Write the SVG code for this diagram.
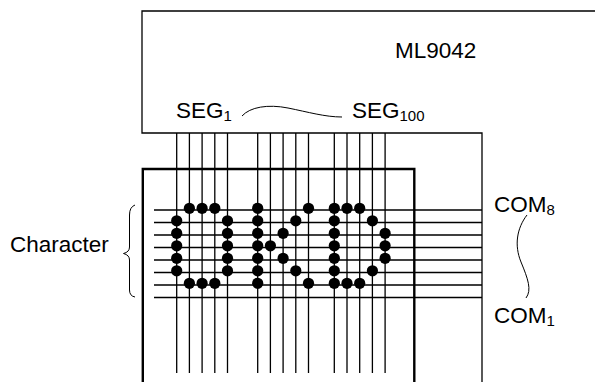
<svg xmlns="http://www.w3.org/2000/svg" width="595" height="382" viewBox="0 0 595 382">
<style>
text{font-family:"Liberation Sans",Arial,sans-serif;font-size:22.5px;fill:#000}
.sub{font-size:15px}
.ln{stroke:#000;stroke-width:1.3;fill:none}
.thin{stroke:#000;stroke-width:1;fill:none}
.dot{fill:#000}
</style>
<rect width="595" height="382" fill="#fff"/>
<g id="ml9042">
<path class="ln" d="M595 11H142V133H482V382"/>
<text x="395" y="58">ML9042</text>
<text x="176" y="118">SEG<tspan class="sub" dy="3">1</tspan></text>
<text x="352" y="118">SEG<tspan class="sub" dy="3">100</tspan></text>
<path class="thin" d="M242 116C250 107 268 104 288 108S325 117 342 117"/>
</g>
<g id="connectors">
<g class="ln">
<path d="M176.7 133V373M189.4 133V373M202.1 133V373M214.8 133V373M227.5 133V373"/>
<path d="M257.7 133V373M270.4 133V373M283.1 133V373M295.8 133V373M308.5 133V373"/>
<path d="M334.3 133V373M347 133V373M359.7 133V373M372.4 133V373M385.1 133V373"/>
<path d="M154 210H482M154 222.5H482M154 235H482M154 247.5H482M154 260H482M154 272.5H482M154 285H482M154 297.5H482"/>
</g>
</g>
<g id="display">
<path d="M142.8 382V169H414.3V382" fill="none" stroke="#000" stroke-width="2.4"/>
</g>
<g id="characters" class="dot">
<!-- O -->
<g transform="translate(176.7 208.3)">
<circle cx="12.7" cy="0" r="5.6"/><circle cx="25.4" cy="0" r="5.6"/><circle cx="38.1" cy="0" r="5.6"/>
<circle cx="0" cy="12.5" r="5.6"/><circle cx="50.8" cy="12.5" r="5.6"/>
<circle cx="0" cy="25" r="5.6"/><circle cx="50.8" cy="25" r="5.6"/>
<circle cx="0" cy="37.5" r="5.6"/><circle cx="50.8" cy="37.5" r="5.6"/>
<circle cx="0" cy="50" r="5.6"/><circle cx="50.8" cy="50" r="5.6"/>
<circle cx="0" cy="62.5" r="5.6"/><circle cx="50.8" cy="62.5" r="5.6"/>
<circle cx="12.7" cy="75" r="5.6"/><circle cx="25.4" cy="75" r="5.6"/><circle cx="38.1" cy="75" r="5.6"/>
</g>
<!-- K -->
<g transform="translate(257.7 208.3)">
<circle cx="0" cy="0" r="5.6"/><circle cx="50.8" cy="0" r="5.6"/>
<circle cx="0" cy="12.5" r="5.6"/><circle cx="38.1" cy="12.5" r="5.6"/>
<circle cx="0" cy="25" r="5.6"/><circle cx="25.4" cy="25" r="5.6"/>
<circle cx="0" cy="37.5" r="5.6"/><circle cx="12.7" cy="37.5" r="5.6"/>
<circle cx="0" cy="50" r="5.6"/><circle cx="25.4" cy="50" r="5.6"/>
<circle cx="0" cy="62.5" r="5.6"/><circle cx="38.1" cy="62.5" r="5.6"/>
<circle cx="0" cy="75" r="5.6"/><circle cx="50.8" cy="75" r="5.6"/>
</g>
<!-- D -->
<g transform="translate(334.3 208.3)">
<circle cx="0" cy="0" r="5.6"/><circle cx="12.7" cy="0" r="5.6"/><circle cx="25.4" cy="0" r="5.6"/>
<circle cx="0" cy="12.5" r="5.6"/><circle cx="38.1" cy="12.5" r="5.6"/>
<circle cx="0" cy="25" r="5.6"/><circle cx="50.8" cy="25" r="5.6"/>
<circle cx="0" cy="37.5" r="5.6"/><circle cx="50.8" cy="37.5" r="5.6"/>
<circle cx="0" cy="50" r="5.6"/><circle cx="50.8" cy="50" r="5.6"/>
<circle cx="0" cy="62.5" r="5.6"/><circle cx="38.1" cy="62.5" r="5.6"/>
<circle cx="0" cy="75" r="5.6"/><circle cx="12.7" cy="75" r="5.6"/><circle cx="25.4" cy="75" r="5.6"/>
</g>
</g>
<g id="character-label">
<text x="10" y="252">Character</text>
<path class="thin" d="M135 205Q129.5 207 129.5 215V247Q129.5 252 123.5 253.5Q129.5 255 129.5 260V290Q129.5 296 135 297"/>
</g>
<g id="com-labels">
<text x="494" y="212">COM<tspan class="sub" dy="3">8</tspan></text>
<text x="494" y="323">COM<tspan class="sub" dy="3">1</tspan></text>
<path class="thin" d="M527 215C517 228 514 245 521 262S532 290 526 298"/>
</g>
</svg>
